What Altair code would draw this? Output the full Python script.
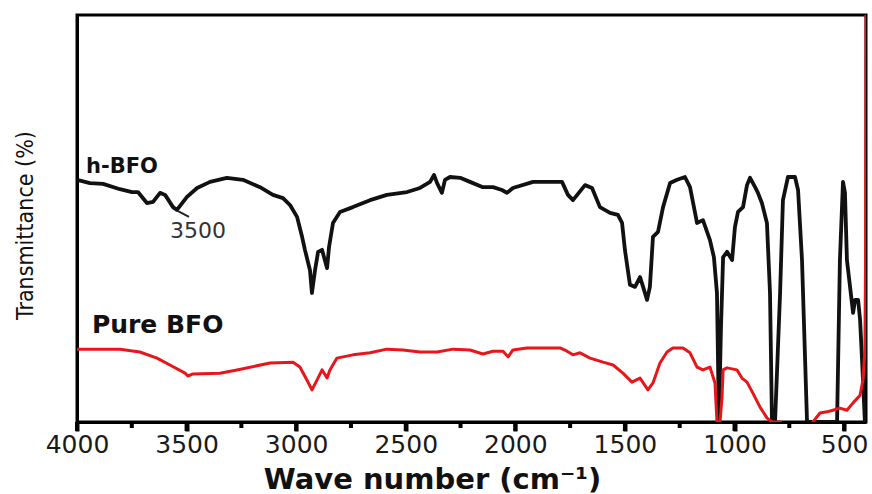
import altair as alt
import pandas as pd

# FTIR spectrum of h-BFO (wavenumber in cm^-1, transmittance in arbitrary %)
hbfo_wavenumber = [4000, 3941, 3881, 3804, 3749, 3722, 3681, 3653, 3621, 3598, 3562, 3544,
                   3498, 3452, 3393, 3316, 3243, 3165, 3106, 3060, 3028, 2996, 2973, 2960,
                   2937, 2928, 2914, 2900, 2882, 2859, 2850, 2832, 2800, 2741, 2663, 2586,
                   2494, 2435, 2389, 2371, 2357, 2335, 2321, 2298, 2252, 2207, 2148, 2102,
                   2061, 2038, 2011, 1919, 1855, 1787, 1760, 1737, 1682, 1650, 1614, 1568,
                   1532, 1513, 1500, 1477, 1454, 1431, 1417, 1399, 1386, 1372, 1349, 1326,
                   1294, 1262, 1226, 1203, 1171, 1144, 1112, 1094, 1080, 1071, 1062, 1052,
                   1034, 1011, 998, 984, 961, 943, 929, 906, 893, 875, 852, 838, 829, 815,
                   792, 779, 756, 724, 710, 692, 669, 655, 532, 519, 505, 496, 487, 464,
                   459, 450, 436, 427, 418, 405, 400]
hbfo_transmittance = [59.5, 58.7, 58.5, 57.2, 56.5, 56.5, 53.8, 54.1, 56.3, 55.8, 52.8, 52.1,
                      55.3, 57.5, 59.0, 60.0, 59.5, 57.7, 55.8, 55.0, 53.3, 50.4, 45.5, 42.3,
                      37.3, 31.7, 37.3, 41.8, 42.3, 37.8, 43.0, 48.9, 51.6, 52.8, 54.5, 55.8,
                      56.5, 57.5, 59.0, 60.7, 58.7, 56.3, 59.5, 60.2, 60.0, 59.0, 57.7, 57.7,
                      57.0, 56.3, 57.5, 59.0, 59.0, 59.0, 55.8, 54.5, 58.2, 57.5, 52.8, 51.4,
                      50.9, 48.9, 42.3, 33.7, 33.2, 35.6, 33.2, 30.0, 33.2, 45.5, 46.7, 52.8,
                      58.7, 59.5, 60.2, 57.7, 48.9, 49.6, 44.7, 40.5, 31.7, 0.0, 22.6, 40.5,
                      41.8, 39.8, 47.9, 51.6, 52.8, 58.2, 60.0, 57.7, 56.3, 53.8, 48.9, 31.7,
                      0.0, 0.0, 31.7, 54.5, 60.2, 60.2, 57.0, 39.8, 0.0, 0.0, 0.0, 39.8, 59.0,
                      56.3, 39.8, 29.2, 26.8, 30.0, 30.0, 25.1, 15.2, 0.0, 0.0]

# FTIR spectrum of pure BFO
pure_wavenumber = [4000, 3804, 3713, 3635, 3576, 3507, 3494, 3471, 3348, 3270, 3119, 3014,
                   2983, 2951, 2928, 2905, 2882, 2859, 2846, 2814, 2741, 2663, 2586, 2513,
                   2435, 2357, 2284, 2207, 2148, 2102, 2056, 2033, 2011, 1947, 1796, 1764,
                   1737, 1705, 1659, 1600, 1554, 1509, 1468, 1431, 1395, 1372, 1340, 1308,
                   1281, 1235, 1203, 1171, 1144, 1112, 1089, 1080, 1066, 1057, 1052, 1034,
                   989, 966, 943, 916, 884, 852, 829, 792, 747, 655, 642, 610, 578, 551,
                   519, 487, 459, 427, 414, 405, 402, 400]
pure_transmittance = [17.9, 17.9, 17.2, 15.7, 14.0, 12.0, 11.3, 11.8, 12.0, 12.8, 14.5, 14.7,
                      13.5, 10.3, 7.9, 10.3, 12.8, 10.8, 12.8, 15.7, 16.5, 17.0, 17.9, 17.7,
                      17.2, 17.2, 17.9, 17.7, 16.7, 17.4, 17.4, 16.0, 17.7, 18.2, 18.2, 17.4,
                      16.5, 17.0, 15.7, 14.7, 14.0, 12.0, 9.8, 10.8, 7.9, 9.6, 14.5, 17.2,
                      18.2, 18.2, 17.0, 13.5, 12.8, 13.5, 9.6, 0.0, 0.0, 6.1, 12.8, 13.3,
                      12.8, 10.8, 9.8, 7.1, 3.7, 1.0, 0.0, 0.0, -2.0, -2.0, 0.0, 2.2, 2.5, 2.9,
                      3.4, 2.9, 4.7, 6.6, 10.3, 17.7, 40.0, 100.0]

# x-axis: labelled ticks every 500 cm^-1, minor ticks in between
major_ticks = [4000, 3500, 3000, 2500, 2000, 1500, 1000, 500]
minor_ticks = [3750, 3250, 2750, 2250, 1750, 1250, 750]

# series labels and the 3500 cm^-1 band marker
label_text = ["h-BFO", "Pure BFO"]
label_wn = [3959, 3932]
label_t = [61.2, 21.9]
band_text = ["3500"]
band_wn = [3576]
band_t = [45.2]
arrow_wn = [3539]
arrow_wn2 = [3489]
arrow_t = [51.8]
arrow_t2 = [50.4]

PLOT_W, PLOT_H = 789, 407

hbfo = pd.DataFrame({"wn": hbfo_wavenumber, "t": hbfo_transmittance})
pure = pd.DataFrame({"wn": pure_wavenumber, "t": pure_transmittance})
labels = pd.DataFrame({"wn": label_wn, "t": label_t, "text": label_text})
band = pd.DataFrame({"wn": band_wn, "t": band_t, "text": band_text})
arrow = pd.DataFrame({"wn": arrow_wn, "wn2": arrow_wn2, "t": arrow_t, "t2": arrow_t2})
major_df = pd.DataFrame({"wn": major_ticks})
minor_df = pd.DataFrame({"wn": minor_ticks})

x_scale = alt.Scale(domain=[400, 4000], reverse=True, nice=False, zero=False)
y_scale = alt.Scale(domain=[0, 100], nice=False, zero=False)

x_axis = alt.Axis(
    values=major_ticks, orient="bottom", grid=False, format="d",
    ticks=True, tickSize=9, tickWidth=4, tickColor="#000000", tickOpacity=1,
    domain=True, domainWidth=3, domainColor="black",
    labelFont="DejaVu Sans", labelFontSize=25, labelColor="#1a1a1a",
    labelPadding=1, labelFlush=False, labelOverlap=False,
    title="Wave number (cm⁻¹)", titleFont="DejaVu Sans", titleFontSize=29,
    titleFontWeight="bold", titleColor="#111111",
    titleX=355, titleY=66, titleAlign="center", titleBaseline="alphabetic",
)
y_axis = alt.Axis(
    grid=False, ticks=False, labels=False,
    domain=True, domainWidth=3, domainColor="black",
    title="Transmittance (%)", titleFont="DejaVu Sans Condensed, Liberation Sans",
    titleFontSize=23, titleFontWeight="normal", titleColor="#111111",
    titleAngle=270, titleX=-52, titleY=210, titleAlign="center", titleBaseline="middle",
)

black_line = alt.Chart(hbfo).mark_line(
    color="#111111", strokeWidth=3.8, clip=True, strokeJoin="round"
).encode(
    x=alt.X("wn:Q", scale=x_scale, axis=x_axis),
    y=alt.Y("t:Q", scale=y_scale, axis=y_axis),
)

red_line = alt.Chart(pure).mark_line(
    color="#e8161b", strokeWidth=3, clip=True, strokeJoin="round"
).encode(
    x=alt.X("wn:Q", scale=x_scale, axis=None),
    y=alt.Y("t:Q", scale=y_scale, axis=None),
)

# outward tick marks below the bottom axis line
major_tick_marks = alt.Chart(major_df).mark_tick(
    color="#000000", thickness=4, orient="vertical", opacity=1
).encode(
    x=alt.X("wn:Q", scale=x_scale, axis=None),
    y=alt.value(PLOT_H + 4.5),
    size=alt.value(9),
)
minor_tick_marks = alt.Chart(minor_df).mark_tick(
    color="#000000", thickness=4, orient="vertical", opacity=1
).encode(
    x=alt.X("wn:Q", scale=x_scale, axis=None),
    y=alt.value(PLOT_H + 3),
    size=alt.value(6),
)

series_labels = alt.Chart(labels).mark_text(
    align="left", baseline="alphabetic", font="DejaVu Sans", fontWeight="bold",
    color="#111111"
).encode(
    x=alt.X("wn:Q", scale=x_scale, axis=None),
    y=alt.Y("t:Q", scale=y_scale, axis=None),
    text="text:N",
    size=alt.Size("text:N", scale=alt.Scale(domain=label_text, range=[21, 25]), legend=None),
)

band_label = alt.Chart(band).mark_text(
    align="left", baseline="alphabetic", font="DejaVu Sans", fontSize=22, color="#333333"
).encode(
    x=alt.X("wn:Q", scale=x_scale, axis=None),
    y=alt.Y("t:Q", scale=y_scale, axis=None),
    text="text:N",
)

band_arrow = alt.Chart(arrow).mark_rule(color="#222222", strokeWidth=2).encode(
    x=alt.X("wn:Q", scale=x_scale, axis=None),
    x2="wn2:Q",
    y=alt.Y("t:Q", scale=y_scale, axis=None),
    y2="t2:Q",
)

chart = alt.layer(
    black_line, red_line, major_tick_marks, minor_tick_marks,
    series_labels, band_label, band_arrow
).resolve_axis(
    x="independent", y="independent"
).properties(
    width=PLOT_W, height=PLOT_H,
    autosize=alt.AutoSizeParams(type="none"),
    padding={"left": 77, "top": 15, "right": 6, "bottom": 72},
    background="white",
).configure_view(
    stroke="black", strokeWidth=3
)

chart.save("out.html", embed_options={"renderer": "svg", "actions": False})
